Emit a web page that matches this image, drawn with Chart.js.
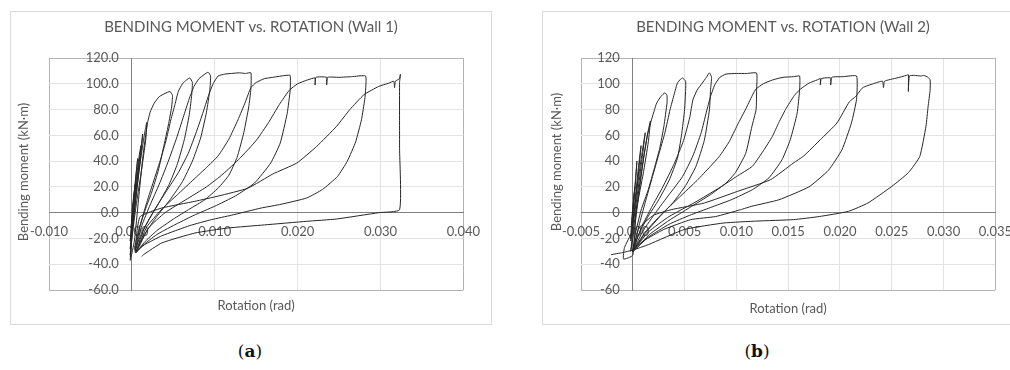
<!DOCTYPE html>
<html>
<head>
<meta charset="utf-8">
<script src="https://cdn.jsdelivr.net/npm/chart.js@4.4.1/dist/chart.umd.min.js"></script>
<style>
  html, body { margin: 0; padding: 0; background: #fff; }
  body { width: 1010px; height: 370px; position: relative; overflow: hidden; }
  .panel { position: absolute; top: 11px; width: 480px; height: 312px; border: 1px solid #d9d9d9; background: #fff; }
  .panel canvas { display: block; }
  .caption { position: absolute; top: 341px; width: 60px; text-align: center; font-family: "DejaVu Serif", "Liberation Serif", serif; font-size: 17px; color: #111; }
</style>
</head>
<body>
<div class="panel" style="left:10px"><canvas id="wall1" width="480" height="312"></canvas></div>
<div class="panel" style="left:542px"><canvas id="wall2" width="480" height="312"></canvas></div>
<div class="caption" style="left:220px">(<b>a</b>)</div>
<div class="caption" style="left:727px">(<b>b</b>)</div>
<script>
// rotation (rad), bending moment (kN·m) along the loading history

const wall1XTicks = [-0.01, 0, 0.01, 0.02, 0.03, 0.04];
const wall2XTicks = [-0.005, 0, 0.005, 0.01, 0.015, 0.02, 0.025, 0.03, 0.035];
const momentTicks = [-60, -40, -20, 0, 20, 40, 60, 80, 100, 120];

const wall1Points = [
    // small elastic cycles
    [0, 0], [0.0002, 12], [0.0004, 22], [0.0001, 2], [-0.0001, -12],
    [0.0002, 10], [0.0005, 30], [0.0007, 42], [0.0004, 22], [0.0000, -5], [-0.0002, -22],
    [0.0002, 5], [0.0006, 30], [0.0009, 45], [0.0011, 52], [0.0008, 35], [0.0002, 2], [-0.0002, -28],
    [0.0003, 5], [0.0007, 30], [0.0011, 50], [0.0013, 61], [0.0011, 45], [0.0005, 12], [0.0000, -15], [-0.0002, -33],
    [0.0003, 0], [0.0008, 30], [0.0013, 52], [0.0016, 64], [0.0018, 70], [0.0017, 58], [0.0011, 30], [0.0005, 5], [0.0000, -20], [-0.0002, -37],
    // peak 94
    [0.0003, -22], [0.0008, 10], [0.0013, 42], [0.0017, 62], [0.0019, 70], [0.0022, 78], [0.0027, 85], [0.0033, 90], [0.0040, 92.5], [0.0046, 94], [0.0049, 91],
    [0.0048, 82], [0.0044, 68], [0.0038, 50], [0.0032, 33], [0.0024, 16], [0.0016, 2], [0.0008, -14], [0.0003, -28],
    // peak 104
    [0.0004, -29], [0.0010, -10], [0.0018, 8], [0.0027, 26], [0.0035, 42], [0.0042, 58], [0.0047, 72], [0.0052, 84], [0.0056, 94], [0.0061, 100], [0.0066, 103], [0.0070, 104.5], [0.0073, 101],
    [0.0072, 90], [0.0069, 75], [0.0063, 56], [0.0055, 38], [0.0045, 22], [0.0033, 8], [0.0021, -5], [0.0011, -17], [0.0004, -29],
    // peak 109
    [0.0004, -30], [0.0012, -10], [0.0022, 6], [0.0033, 22], [0.0044, 40], [0.0054, 58], [0.0062, 74], [0.0069, 88], [0.0075, 98], [0.0081, 104], [0.0087, 107], [0.0092, 109], [0.0095, 106],
    [0.0094, 95], [0.0090, 78], [0.0083, 58], [0.0073, 40], [0.0061, 24], [0.0046, 10], [0.0030, -3], [0.0016, -16], [0.0005, -30],
    // plateau to 0.0144
    [0.0005, -30], [0.0015, -12], [0.0028, 3], [0.0042, 17], [0.0056, 31], [0.0068, 46], [0.0078, 63], [0.0086, 78], [0.0092, 90], [0.0098, 100], [0.0104, 106], [0.0112, 107.5], [0.0120, 108], [0.0130, 108.5], [0.0137, 108], [0.01436, 108.5],
    [0.01436, 96], [0.0141, 82], [0.0135, 62], [0.0127, 43], [0.0117, 29], [0.0104, 19], [0.0088, 10], [0.0070, 3], [0.0050, -5], [0.0030, -14], [0.0015, -23], [0.0005, -31],
    // plateau to 0.0191
    [0.0006, -29], [0.0018, -11], [0.0035, 2], [0.0055, 14], [0.0075, 26], [0.0090, 35], [0.0104, 44], [0.0117, 57], [0.0128, 72], [0.0137, 86], [0.01436, 97], [0.0150, 101], [0.0160, 104], [0.0170, 105], [0.0180, 106], [0.0186, 106.5], [0.0191, 106.5],
    [0.0191, 95], [0.01874, 77], [0.0179, 54], [0.01675, 38.5], [0.0148, 23], [0.0125, 13], [0.0100, 5], [0.0075, -2], [0.0050, -10], [0.0030, -17], [0.0012, -26], [0.0005, -31],
    // plateau to 0.0282
    [0.0006, -30], [0.0020, -12], [0.0040, 0], [0.0065, 10], [0.0090, 20], [0.0110, 30], [0.0130, 42], [0.0150, 56], [0.0165, 70], [0.0178, 84], [0.0190, 95], [0.0200, 100], [0.0212, 103], [0.0221, 104.5], [0.0221, 99], [0.0222, 105], [0.0235, 105], [0.0235, 99], [0.0236, 105], [0.0250, 105], [0.0265, 105.5], [0.0282, 106],
    [0.0282, 95], [0.0281, 88], [0.0277, 72], [0.0270, 55], [0.0260, 40], [0.0248, 28], [0.0230, 18], [0.0211, 11.4], [0.0180, 6.5], [0.0156, 3.6], [0.0120, -2], [0.0096, -5.4], [0.0070, -10], [0.0036, -18], [0.0015, -25], [0.0004, -31],
    // last cycle to 0.0323 and final unloading
    [0.0004, -31], [0.0006, -15], [0.0010, -3], [0.0036, 3.6], [0.0076, 8.8], [0.0105, 13], [0.0140, 19], [0.0170, 30], [0.0199, 38.5], [0.0223, 51.4], [0.0247, 67], [0.0263, 80], [0.0280, 91.5], [0.0298, 98], [0.0310, 100.5], [0.0316, 102], [0.0317, 97], [0.0318, 102], [0.0323, 104], [0.0324, 107.5], [0.0323, 101],
    [0.0323, 50], [0.0323, 2.3], [0.0298, 0], [0.0247, -4.9], [0.0211, -6.7], [0.0160, -9.5], [0.0116, -11.9], [0.0076, -15.8], [0.0036, -23.5], [0.0014, -32.6], [0.0012, -34]
];

const wall2Points = [
    // small elastic cycles
    [0, 0], [0.0001, 12], [0.0002, 20], [0.0000, 2], [-0.0001, -10],
    [0.0001, 8], [0.0003, 28], [0.0004, 40], [0.0002, 20], [-0.0001, -5], [-0.0002, -20],
    [0.0002, 8], [0.0005, 32], [0.0007, 46], [0.0008, 52], [0.0006, 35], [0.0002, 5], [-0.0002, -22],
    [0.0002, 5], [0.0006, 30], [0.0010, 52], [0.0012, 62], [0.0009, 42], [0.0004, 12], [-0.0001, -15], [-0.0008, -27], [-0.0009, -36], [0.0000, -33],
    [0.0003, 0], [0.0008, 30], [0.0012, 50], [0.0015, 64], [0.0017, 71], [0.0015, 55], [0.0010, 30], [0.0004, 5], [0.0000, -15], [-0.0002, -30],
    // peak 93
    [-0.0002, -30], [0.0002, -10], [0.0006, 15], [0.0010, 40], [0.0014, 60], [0.0018, 72], [0.0021, 80], [0.0023, 85], [0.0027, 90], [0.0031, 93], [0.0033, 91],
    [0.0033, 85], [0.0030, 67], [0.0026, 50], [0.0021, 35], [0.0015, 18], [0.0008, 2], [0.0002, -18], [0.0000, -30],
    // peak 104
    [0.0000, -30], [0.0006, -10], [0.0012, 8], [0.0019, 28], [0.0025, 45], [0.0031, 62], [0.0036, 80], [0.0040, 92], [0.0043, 100.5], [0.0046, 103.5], [0.0048, 104.5], [0.0051, 102],
    [0.0051, 95], [0.0050, 80], [0.0047, 60], [0.0043, 42], [0.0035, 25], [0.0025, 10], [0.0014, -4], [0.0005, -18], [0.0000, -30],
    // peak 108
    [0.0000, -30], [0.0008, -12], [0.0018, 4], [0.0029, 20], [0.0040, 38], [0.0049, 56], [0.0055, 74], [0.0058, 87.6], [0.0062, 95], [0.0067, 100.5], [0.0071, 105], [0.0074, 108.5], [0.0076, 105],
    [0.0075, 95], [0.0074, 80], [0.0069, 56], [0.0061, 36], [0.0051, 21], [0.0039, 8], [0.0025, -4], [0.0012, -16], [0.0002, -28],
    // plateau to 0.0120
    [0.0000, -30], [0.0010, -14], [0.0022, 0], [0.0035, 14], [0.0048, 28], [0.0058, 44], [0.0066, 62], [0.0071, 78], [0.0075, 90], [0.0079, 99], [0.0084, 105], [0.0090, 107.5], [0.0100, 108], [0.0110, 108], [0.01195, 108.3],
    [0.01195, 95], [0.0119, 80], [0.0115, 67], [0.0109, 46], [0.0099, 31], [0.0090, 23], [0.0075, 14], [0.0055, 4], [0.0035, -6], [0.0016, -17], [0.0003, -28],
    // plateau to 0.0161
    [0.0000, -30], [0.0012, -15], [0.0028, -1], [0.0045, 12], [0.0062, 25], [0.0075, 36], [0.00835, 43.6], [0.0093, 55], [0.0101, 68], [0.0110, 82], [0.0116, 92], [0.0119, 96], [0.0126, 100], [0.0135, 103], [0.0145, 105], [0.0155, 105.5], [0.0161, 106],
    [0.0161, 95], [0.01586, 77], [0.0152, 56.6], [0.0144, 41], [0.01314, 27], [0.01154, 17.8], [0.0095, 10], [0.0075, 4], [0.0055, -2], [0.0035, -9], [0.0015, -19], [0.0003, -28],
    // plateau to 0.0216
    [0.0000, -30], [0.0015, -15], [0.0035, -3], [0.0060, 8], [0.0085, 20], [0.0100, 28], [0.01154, 36], [0.0126, 48], [0.01346, 59], [0.0141, 70], [0.01474, 80], [0.0156, 91], [0.0162, 96], [0.0170, 100.5], [0.0178, 103], [0.0181, 104], [0.0181, 99], [0.0182, 104], [0.0191, 104.5], [0.0191, 99], [0.0192, 105], [0.0203, 105.5], [0.0216, 106],
    [0.0216, 88], [0.0211, 69.5], [0.0202, 49], [0.0189, 33], [0.0170, 20], [0.0141, 10], [0.0115, 5], [0.0104, 2.3], [0.0080, -3], [0.0056, -5.4], [0.0030, -13], [0.0010, -22], [0.0000, -29],
    // last cycle to 0.0287 and final unloading
    [0.0000, -29], [0.0006, -12], [0.0020, -2], [0.0037, 2.3], [0.0069, 7.5], [0.0101, 16.5], [0.0133, 25.6], [0.0155, 38.5], [0.0165, 44], [0.0181, 56.6], [0.0197, 69.5], [0.0209, 86], [0.0215, 90], [0.0222, 97], [0.0232, 100], [0.0241, 102], [0.0242, 97], [0.0243, 102], [0.0255, 104.5], [0.0264, 106.5], [0.0266, 107], [0.0266, 94], [0.0267, 106], [0.0272, 106.5], [0.0278, 106], [0.0281, 106.5], [0.0285, 105], [0.0287, 103],
    [0.0287, 95], [0.0285, 82], [0.0283, 67], [0.0277, 43.6], [0.0266, 31], [0.0250, 20.4], [0.0227, 7.5], [0.0208, 1], [0.0180, -3], [0.0155, -5.4], [0.0120, -6.5], [0.0088, -8], [0.0050, -13], [0.0015, -24.8], [0.0000, -29], [-0.0010, -31], [-0.0021, -32.6]
];

const FONT = 'Lato, "Open Sans", sans-serif';
const TEXT = '#595959';

// titles and the moment labels next to the zero-rotation axis are painted here
const wallTitles = {
    id: 'wallTitles',
    afterDraw(chart, args, opts) {
        const ctx = chart.ctx;
        const area = chart.chartArea;
        const xs = chart.scales.x, ys = chart.scales.y;
        ctx.save();
        ctx.fillStyle = TEXT;
        ctx.textBaseline = 'middle';

        ctx.textAlign = 'right';
        ctx.font = '13px ' + FONT;
        const x0 = xs.getPixelForValue(0);
        momentTicks.forEach(v => {
            ctx.fillText(v.toFixed(opts.yDigits), x0 - 13, ys.getPixelForValue(v));
        });

        ctx.textAlign = 'center';
        ctx.font = '15px ' + FONT;
        ctx.fillText(opts.title, chart.width / 2, opts.titleY);
        ctx.font = '13px ' + FONT;
        ctx.fillText('Rotation (rad)', (area.left + area.right) / 2, opts.xTitleY);
        ctx.translate(opts.yTitleX, opts.yTitleY);
        ctx.rotate(-Math.PI / 2);
        ctx.fillText('Bending moment (kN·m)', 0, 0);
        ctx.restore();
    }
};

function frameColor(count) {
    return function (c) {
        return (c.index === 0 || c.index === count - 1) ? '#b3b3b3' : '#e3e3e3';
    };
}

function drawWall(canvasId, points, xTicks, titles) {
    return new Chart(document.getElementById(canvasId), {
        type: 'scatter',
        data: {
            datasets: [{
                data: points.map(p => ({ x: p[0], y: p[1] })),
                showLine: true,
                borderColor: '#262626',
                borderWidth: 1,
                pointRadius: 0,
                tension: 0.15
            }]
        },
        plugins: [wallTitles],
        options: {
            responsive: false,
            animation: false,
            layout: { padding: { left: 38, right: 24, top: 46, bottom: 34 } },
            plugins: {
                legend: { display: false },
                tooltip: { enabled: false },
                wallTitles: titles
            },
            scales: {
                x: {
                    type: 'linear',
                    position: { y: 0 },
                    min: xTicks[0],
                    max: xTicks[xTicks.length - 1],
                    afterBuildTicks: s => { s.ticks = xTicks.map(v => ({ value: v })); },
                    ticks: {
                        callback: v => v.toFixed(3),
                        autoSkip: false, maxRotation: 0, padding: 11,
                        color: TEXT, font: { family: FONT, size: 13 }
                    },
                    grid: { color: frameColor(xTicks.length), drawTicks: false },
                    border: { color: '#808080' }
                },
                y: {
                    type: 'linear',
                    position: { x: 0 },
                    min: momentTicks[0],
                    max: momentTicks[momentTicks.length - 1],
                    afterBuildTicks: s => { s.ticks = momentTicks.map(v => ({ value: v })); },
                    ticks: { display: false },
                    grid: { color: frameColor(momentTicks.length), drawTicks: false },
                    border: { color: '#808080' }
                }
            }
        }
    });
}

drawWall('wall1', wall1Points, wall1XTicks, {
    title: 'BENDING MOMENT vs. ROTATION (Wall 1)', titleY: 15, xTitleY: 294,
    yTitleX: 13, yTitleY: 160, yDigits: 1
});
drawWall('wall2', wall2Points, wall2XTicks, {
    title: 'BENDING MOMENT vs. ROTATION (Wall 2)', titleY: 15, xTitleY: 297,
    yTitleX: 14, yTitleY: 150, yDigits: 0
});
</script>
</body>
</html>
